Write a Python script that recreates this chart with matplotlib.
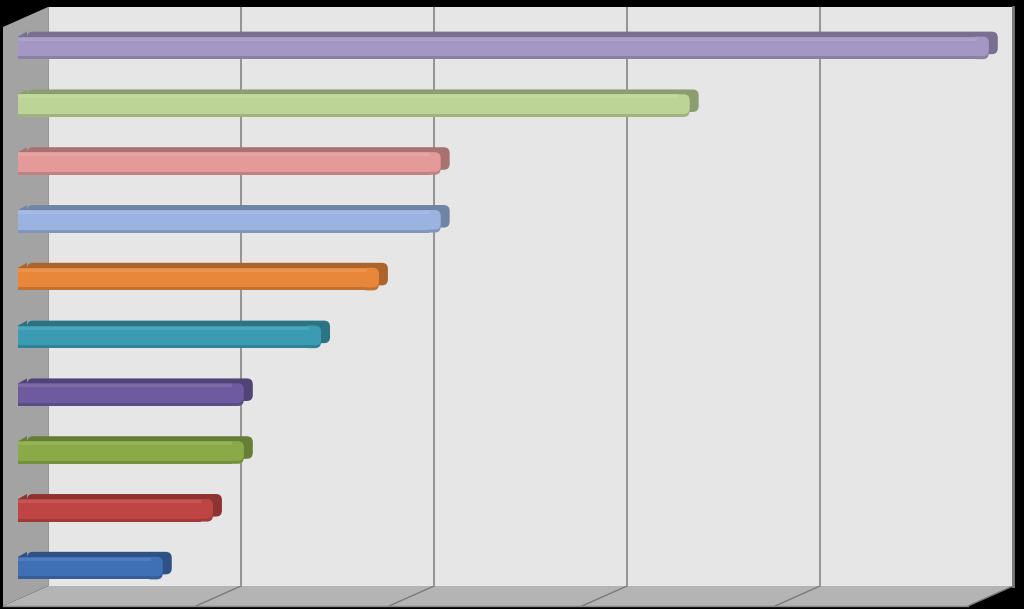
import matplotlib.pyplot as plt
from matplotlib.patches import Polygon, FancyBboxPatch
from matplotlib.colors import to_rgb
import numpy as np

# values, top to bottom
categories = ['A', 'B', 'C', 'D', 'E', 'F', 'G', 'H', 'I', 'J']
values = [50.3, 34.8, 21.9, 21.9, 18.7, 15.7, 11.7, 11.7, 10.1, 7.5]
colors = ['#a497c4', '#bcd596', '#e39a99', '#9ab3e0', '#e8873a',
          '#3b9bb3', '#6e5a9e', '#8aaa48', '#bf4544', '#3f6fb5']
xticks = [0, 10, 20, 30, 40, 50]

W, H = 1024, 609
fig = plt.figure(figsize=(W / 100, H / 100), dpi=100, facecolor='black')


def shade(c, f):
    r, g, b = to_rgb(c)
    return (r * f, g * f, b * f)


def tint(c, f):
    r, g, b = to_rgb(c)
    return (r + (1 - r) * f, g + (1 - g) * f, b + (1 - b) * f)


# pixel-space background axes for the 3D walls
bg = fig.add_axes([0, 0, 1, 1])
bg.set_xlim(0, W)
bg.set_ylim(H, 0)
bg.axis('off')

# back wall (with grid)
wall_l, wall_r, wall_t, wall_b = 48, 1013, 7, 586
back = fig.add_axes([wall_l / W, (H - wall_b) / H, (wall_r - wall_l) / W, (wall_b - wall_t) / H])
back.set_facecolor('#e6e6e6')
back.set_xlim(0, 50)
back.set_ylim(0, 1)
back.set_xticks(xticks)
back.set_yticks([])
back.xaxis.grid(True, color='#858585', linewidth=1.2)
back.tick_params(length=0, labelbottom=False)
for s in back.spines.values():
    s.set_visible(False)
back.spines['right'].set_visible(True)
back.spines['right'].set_color('#7a7a7a')
back.spines['right'].set_linewidth(2)

# left side wall and floor
dxw, dyw = -45, 20
bg.add_patch(Polygon([(wall_l, wall_t), (wall_l, wall_b), (wall_l + dxw, wall_b + dyw),
                      (wall_l + dxw, wall_t + dyw)], closed=True, facecolor='#a3a3a3',
                     edgecolor='none'))
bg.add_patch(Polygon([(wall_l, wall_b), (wall_r, wall_b), (wall_r + dxw, wall_b + dyw),
                      (wall_l + dxw, wall_b + dyw)], closed=True, facecolor='#b4b4b4',
                     edgecolor='none'))
for t in xticks[1:]:
    px = wall_l + t / 50 * (wall_r - wall_l)
    bg.plot([px, px + dxw], [wall_b, wall_b + dyw], color='#7a7a7a', linewidth=1)
bg.plot([wall_l + dxw, wall_r + dxw], [wall_b + dyw, wall_b + dyw], color='#8a8a8a', linewidth=1)

# front axes where the bars live
fl, fr, ft, fb = 18, 983, 19, 597
ax = fig.add_axes([fl / W, (H - fb) / H, (fr - fl) / W, (fb - ft) / H])
ax.set_xlim(0, 50)
ax.set_ylim(len(categories) - 0.5, -0.5)
ax.patch.set_visible(False)
ax.axis('off')

ypos = np.arange(len(categories))
bh = 0.39
bars = ax.barh(ypos, values, height=bh, color=colors, edgecolor='none', zorder=3.1,
               clip_on=False)

xpp = 50 / (fr - fl)
ypp = len(categories) / (fb - ft)
ddx, ddy = 9 * xpp, 5 * ypp
rnd = 6 * xpp
asp = ypp / xpp
band = 3 * ypp
for rect, c in zip(bars, colors):
    x0, y0 = rect.get_x(), rect.get_y()
    w, h = rect.get_width(), rect.get_height()
    x1, y1 = x0 + w, y0 + h
    dark = shade(c, 0.74)
    # extruded body behind the front face (top + side)
    ax.add_patch(FancyBboxPatch((x0 + ddx, y0 - ddy), w, h,
                                boxstyle='round,pad=0,rounding_size=%f' % rnd,
                                mutation_aspect=asp, facecolor=dark,
                                edgecolor='none', zorder=2.8, clip_on=False))
    ax.add_patch(Polygon([(x0, y0), (x0 + ddx, y0 - ddy), (x0 + ddx, y1 - ddy), (x0, y1)],
                         closed=True, facecolor=dark, edgecolor='none',
                         zorder=2.7, clip_on=False))
    # darker base of the front face (shows as a bottom edge)
    base = shade(c, 0.84)
    ax.add_patch(Polygon([(x0, y0), (x1 - 2 * rnd, y0), (x1 - 2 * rnd, y1), (x0, y1)],
                         closed=True, facecolor=base, edgecolor='none', zorder=3.0,
                         clip_on=False))
    ax.add_patch(FancyBboxPatch((x1 - 3 * rnd, y0), 3 * rnd, h,
                                boxstyle='round,pad=0,rounding_size=%f' % rnd,
                                mutation_aspect=asp, facecolor=base,
                                edgecolor='none', zorder=3.0, clip_on=False))
    # main front face with rounded end
    ax.add_patch(FancyBboxPatch((x1 - 3 * rnd, y0), 3 * rnd, h - band,
                                boxstyle='round,pad=0,rounding_size=%f' % rnd,
                                mutation_aspect=asp, facecolor=c,
                                edgecolor='none', zorder=3.1, clip_on=False))
    # soft highlight near the top of the front face
    ax.add_patch(Polygon([(x0, y0 + 1 * ypp), (x1 - 2 * rnd, y0 + 1 * ypp),
                          (x1 - 2 * rnd, y0 + 4 * ypp), (x0, y0 + 4 * ypp)],
                         closed=True, facecolor=tint(c, 0.1), edgecolor='none', zorder=4,
                         clip_on=False))

# the bar rectangles form the flat part of the front face
for rect in bars:
    rect.set_width(rect.get_width() - 2 * rnd)
    rect.set_height(rect.get_height() - band)

fig.savefig('out.png', dpi=100, facecolor='black')
